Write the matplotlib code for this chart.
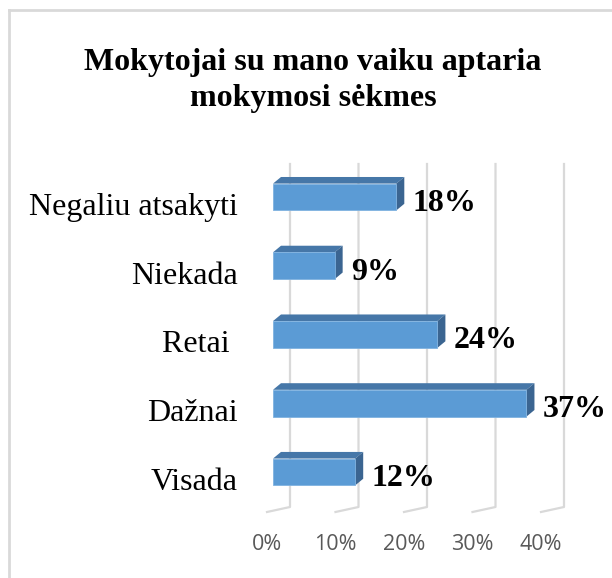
import matplotlib.pyplot as plt
from matplotlib.patches import Polygon, Rectangle
from matplotlib.lines import Line2D

# Duomenys
categories = ['Visada', 'Dažnai', 'Retai ', 'Niekada', 'Negaliu atsakyti']
values = [12, 37, 24, 9, 18]
ticks = [0, 10, 20, 30, 40]
tick_labels = ['0%', '10%', '20%', '30%', '40%']
title_lines = ['Mokytojai su mano vaiku aptaria', 'mokymosi sėkmes']

W, H = 612, 578
fig = plt.figure(figsize=(W / 100, H / 100), dpi=100)

# axes = front plane of the bars (pixels)
ax_left, ax_right, ax_bottom, ax_top = 273, 547, 71, 414
ax = fig.add_axes([ax_left / W, ax_bottom / H, (ax_right - ax_left) / W, (ax_top - ax_bottom) / H])
xlim = (0, 40)
ylim = (-0.51, 4.48)
ax.set_xlim(*xlim)
ax.set_ylim(*ylim)
ax.axis('off')

px_x = (ax_right - ax_left) / (xlim[1] - xlim[0])
px_y = (ax_top - ax_bottom) / (ylim[1] - ylim[0])

def off(dx_px, dy_px):
    return dx_px / px_x, dy_px / px_y

grid_col = '#d9d9d9'
wall_dx, wall_dy = off(17, 14)
front_dx, front_dy = off(-6, -5)

# gridlines: back wall + floor
for t, lab in zip(ticks, tick_labels):
    xs = [t + wall_dx, t + wall_dx, t + front_dx]
    ys = [ylim[1], ylim[0], ylim[0] + front_dy]
    ax.plot(xs, ys, color=grid_col, lw=1.6, clip_on=False, zorder=1)
    ax.text(t + front_dx, ylim[0] + front_dy - 32 / px_y, lab,
            ha='center', va='center', fontsize=15.5, color='#595959',
            family='Open Sans')

# bars with 3D faces
h = 0.39
bdx, bdy = off(8, 6.6)
front_col = '#5b9bd5'
top_col = '#4677a8'
side_col = '#3b6591'
for i, v in enumerate(values):
    y0, y1 = i - h / 2, i + h / 2
    ax.add_patch(Polygon([(0, y1), (v, y1), (v + bdx, y1 + bdy), (bdx, y1 + bdy)],
                         closed=True, fc=top_col, ec='none', zorder=3, clip_on=False))
    ax.add_patch(Polygon([(v, y0), (v, y1), (v + bdx, y1 + bdy), (v + bdx, y0 + bdy)],
                         closed=True, fc=side_col, ec='none', zorder=3, clip_on=False))
    ax.add_patch(Rectangle((0, y0), v, h, fc=front_col, ec='#7fb2e0', lw=0.6,
                           zorder=4, clip_on=False))
    ax.text(v + 16.5 / px_x, i - 14 / px_y, f'{v}%', ha='left', va='baseline',
            fontsize=23, fontweight='bold', family='Liberation Serif',
            color='black', zorder=5, clip_on=False)
    ax.text(-35 / px_x, i - 18 / px_y, categories[i], ha='right', va='baseline',
            fontsize=23, family='Liberation Serif', color='black', clip_on=False)

fig.text(313 / W, 1 - 70 / H, title_lines[0], ha='center', va='baseline', fontsize=23,
         fontweight='bold', family='Liberation Serif')
fig.text(313 / W, 1 - 106 / H, title_lines[1], ha='center', va='baseline', fontsize=23,
         fontweight='bold', family='Liberation Serif')

# chart border (cropped)
fig.add_artist(Line2D([8.5 / W, 8.5 / W], [0, 1 - 9.5 / H], color='#d9d9d9', lw=2))
fig.add_artist(Line2D([8.5 / W, 1], [1 - 9.5 / H, 1 - 9.5 / H], color='#d9d9d9', lw=2))

fig.savefig('out.png', dpi=100, facecolor='white')
